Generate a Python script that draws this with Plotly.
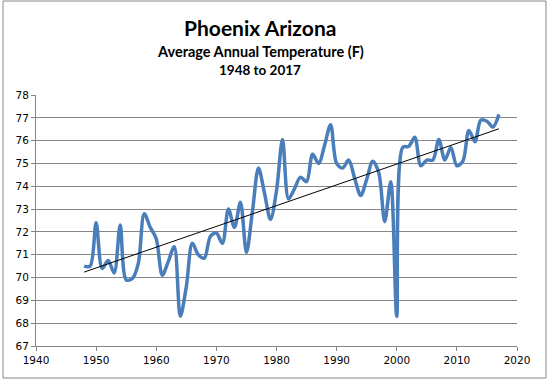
import numpy as np
import plotly.graph_objects as go

years = list(range(1948, 2018))
temps = [70.5, 70.5, 72.4, 70.4, 70.75, 70.2, 72.3, 69.9, 69.95, 70.6,
         72.8, 72.2, 71.7, 70.1, 70.7, 71.35, 68.3, 69.6, 71.5, 71.0,
         70.85, 71.8, 71.95, 71.5, 73.0, 72.2, 73.3, 71.1, 72.9, 74.8,
         73.7, 72.55, 73.8, 76.05, 73.45, 73.9, 74.4, 74.2, 75.4, 75.0,
         75.8, 76.7, 75.0, 74.8, 75.15, 74.35, 73.6, 74.3, 75.1, 74.6,
         72.45, 74.2, 68.3, 75.7, 75.75, 76.15, 74.9, 75.15, 75.15, 76.05,
         75.15, 75.7, 74.9, 75.1, 76.45, 75.95, 76.9, 76.85, 76.6, 77.15]
x_ticks = [1940, 1950, 1960, 1970, 1980, 1990, 2000, 2010, 2020]
y_ticks = list(range(67, 79))

title = "Phoenix Arizona"
subtitle = "Average Annual Temperature (F)"
period = "1948 to 2017"

# Linear trendline computed from the data
coef = np.polyfit(years, temps, 1)
trend = np.polyval(coef, years)

fig = go.Figure()
fig.add_trace(go.Scatter(x=years, y=temps, mode="lines",
                         line=dict(color="#4A7EBB", width=3.5, shape="spline", smoothing=0.9),
                         hoverinfo="x+y", showlegend=False))
fig.add_trace(go.Scatter(x=[years[0], years[-1]], y=[trend[0], trend[-1]], mode="lines",
                         line=dict(color="black", width=1), showlegend=False))

PW, PH = 481, 251  # plot area size in px
L, T = 36, 95
def px(x):
    return (x - L) / PW
def py(y):
    return (T + PH - y) / PH

fig.update_layout(
    width=549, height=383,
    paper_bgcolor="white", plot_bgcolor="white",
    margin=dict(l=L, r=549 - L - PW, t=T, b=383 - T - PH, autoexpand=False),
    font=dict(family="DejaVu Sans", size=10.5, color="black"),
    xaxis=dict(range=[1940, 2020], tickvals=x_ticks, showgrid=False,
               showline=True, linecolor="#868686", linewidth=1,
               ticks="outside", ticklen=4, tickcolor="#868686", zeroline=False,
               tickfont=dict(family="DejaVu Sans", size=10.5)),
    yaxis=dict(range=[67, 78], tickvals=y_ticks, showgrid=True, gridcolor="#868686", gridwidth=1,
               showline=True, linecolor="#868686", linewidth=1,
               ticks="outside", ticklen=4, tickcolor="#868686", zeroline=False,
               tickfont=dict(family="DejaVu Sans", size=10.5)),
    shapes=[dict(type="rect", xref="paper", yref="paper", x0=px(3), x1=px(546),
                 y0=py(378), y1=py(1), line=dict(color="#888888", width=1))],
    annotations=[
        dict(text="<b>%s</b>" % title, xref="paper", yref="paper", x=px(260), y=py(27),
             showarrow=False, xanchor="center", yanchor="middle",
             font=dict(family="Lato", size=21, color="black")),
        dict(text="<b>%s</b>" % subtitle, xref="paper", yref="paper", x=px(260), y=py(52),
             showarrow=False, xanchor="center", yanchor="middle",
             font=dict(family="Lato", size=14.5, color="black")),
        dict(text="<b>%s</b>" % period, xref="paper", yref="paper", x=px(260), y=py(70),
             showarrow=False, xanchor="center", yanchor="middle",
             font=dict(family="Lato", size=13.5, color="black")),
    ],
)
fig.write_html("out.html", config={"displayModeBar": False},
               post_script="document.body.style.margin='0';")
